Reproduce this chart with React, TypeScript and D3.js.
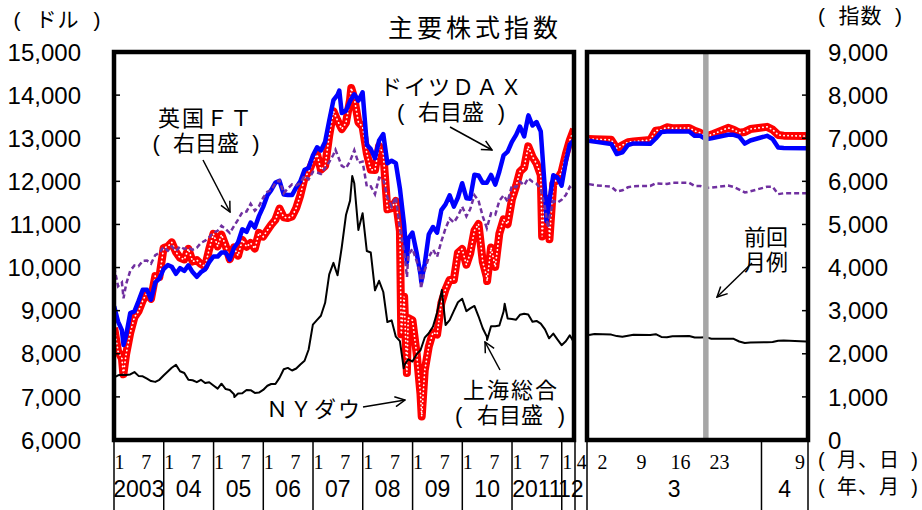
import * as d3 from 'd3';

// month-end closes, Jan 2003 .. Mar 2012
const dowMonthly = [
  8054, 7891, 7992, 8480, 8850, 8985, 9233, 9416, 9275, 9801, 9782, 10454,
  10488, 10584, 10358, 10226, 10188, 10435, 10140, 10174, 10080, 10027, 10428, 10783,
  10490, 10766, 10504, 10193, 10467, 10275, 10641, 10482, 10569, 10440, 10806, 10718,
  10865, 10993, 11109, 11367, 11168, 11150, 11186, 11381, 11679, 12081, 12222, 12463,
  12622, 12269, 12354, 13063, 13628, 13409, 13212, 13358, 13896, 13930, 13372, 13265,
  12650, 12266, 12263, 12820, 12638, 11350, 11378, 11544, 10851, 9325, 8829, 8776,
  8001, 7063, 7609, 8168, 8500, 8447, 9172, 9496, 9712, 9713, 10345, 10428,
  10067, 10325, 10857, 11009, 10137, 9774, 10466, 10015, 10788, 11118, 11006, 11578,
  11892, 12226, 12320, 12811, 12570, 12414, 12143, 11614, 10913, 11955, 12046, 12218,
  12633, 12952, 13212,
];
const daxMonthly = [
  2747, 2547, 2424, 2942, 2982, 3221, 3487, 3485, 3257, 3655, 3746, 3965,
  4059, 4018, 3856, 3985, 3921, 4053, 3895, 3785, 3893, 3960, 4126, 4256,
  4254, 4350, 4349, 4185, 4460, 4587, 4887, 4830, 5044, 4929, 5193, 5408,
  5674, 5797, 5970, 6009, 5692, 5683, 5682, 5859, 6004, 6269, 6309, 6597,
  6789, 6716, 6917, 7409, 7884, 8007, 7584, 7638, 7862, 8019, 7871, 8067,
  6851, 6748, 6535, 6949, 7096, 6418, 6479, 6422, 5831, 4988, 4669, 4810,
  4338, 3843, 4085, 4770, 4941, 4809, 5332, 5465, 5675, 5415, 5625, 5957,
  5608, 5598, 6154, 6136, 5965, 5966, 6148, 5925, 6229, 6601, 6688, 6914,
  7077, 7272, 7041, 7514, 7294, 7376, 7159, 5785, 5502, 6141, 6089, 5898,
  6458, 6856, 6947,
];
const ftseMonthly = [
  3567, 3656, 3613, 3926, 4048, 4031, 4157, 4161, 4091, 4288, 4342, 4477,
  4390, 4492, 4386, 4489, 4431, 4464, 4413, 4459, 4571, 4624, 4703, 4814,
  4852, 4968, 4894, 4801, 4964, 5113, 5282, 5297, 5478, 5317, 5423, 5619,
  5760, 5792, 5965, 6023, 5724, 5833, 5928, 5906, 5961, 6129, 6049, 6221,
  6203, 6172, 6308, 6449, 6621, 6608, 6360, 6303, 6467, 6722, 6432, 6457,
  5880, 5884, 5702, 6087, 6054, 5626, 5412, 5637, 4902, 4377, 4288, 4434,
  4150, 3830, 3926, 4244, 4418, 4249, 4608, 4909, 5134, 5045, 5191, 5413,
  5189, 5355, 5680, 5553, 5188, 4917, 5258, 5225, 5549, 5675, 5528, 5900,
  5863, 5994, 5909, 6070, 5990, 5946, 5815, 5395, 5128, 5544, 5505, 5572,
  5682, 5872, 5768,
];
const shanghaiMonthly = [
  1500, 1512, 1510, 1521, 1576, 1487, 1476, 1421, 1367, 1348, 1397, 1497,
  1590, 1675, 1742, 1595, 1555, 1399, 1386, 1342, 1396, 1321, 1341, 1266,
  1191, 1306, 1181, 1159, 1060, 1080, 1083, 1162, 1155, 1092, 1099, 1161,
  1258, 1299, 1298, 1440, 1641, 1672, 1612, 1658, 1753, 1838, 2099, 2675,
  2786, 2881, 3183, 3841, 4109, 3821, 4471, 5218, 5552, 5954, 4871, 5262,
  4383, 4348, 3473, 3693, 3433, 2736, 2775, 2397, 2293, 1729, 1871, 1821,
  1991, 2082, 2373, 2477, 2633, 2959, 3412, 2668, 2779, 2996, 3195, 3277,
  2989, 3052, 3109, 2870, 2592, 2398, 2638, 2639, 2656, 2979, 2820, 2808,
  2791, 2905, 2928, 2911, 2743, 2762, 2701, 2568, 2359, 2469, 2333, 2199,
  2292, 2428, 2263,
];

// start values and visible highs / lows between month ends
const dowExtra: [string, number][] = [
  ['2003-01-02', 8607], ['2003-03-11', 7524], ['2007-10-09', 14164], ['2008-10-10', 8451],
  ['2008-11-20', 7552], ['2009-03-09', 6547], ['2010-07-02', 9686], ['2011-08-10', 10720],
  ['2011-10-03', 10655],
];
const daxExtra: [string, number][] = [
  ['2003-01-02', 3100], ['2003-03-12', 2203], ['2007-07-13', 8105], ['2008-11-21', 4127],
  ['2009-03-06', 3666], ['2011-05-02', 7528], ['2011-09-12', 5072],
];
const ftseExtra: [string, number][] = [
  ['2003-01-02', 4010], ['2003-03-12', 3287], ['2007-06-15', 6732], ['2008-11-21', 3781],
  ['2009-03-03', 3512], ['2011-09-22', 4923],
];
const shanghaiExtra: [string, number][] = [
  ['2003-01-02', 1450], ['2005-06-03', 998], ['2007-10-16', 6124], ['2008-10-28', 1664],
  ['2009-08-04', 3478], ['2010-07-02', 2320], ['2010-11-08', 3159],
];

// daily closes, right-hand panel
const dailyDates = [
  '2012-03-01', '2012-03-02', '2012-03-05', '2012-03-06', '2012-03-07', '2012-03-08', '2012-03-09',
  '2012-03-12', '2012-03-13', '2012-03-14', '2012-03-15', '2012-03-16', '2012-03-19', '2012-03-20',
  '2012-03-21', '2012-03-22', '2012-03-23', '2012-03-26', '2012-03-27', '2012-03-28', '2012-03-29',
  '2012-03-30', '2012-04-02', '2012-04-03', '2012-04-04', '2012-04-05', '2012-04-09',
];
const dowDaily = [12980, 12977, 12962, 12759, 12837, 12907, 12922, 12960, 13177, 13194, 13253, 13233, 13239, 13170, 13125, 13046, 13081, 13241, 13198, 13127, 13146, 13212, 13264, 13199, 13075, 13060, 13050];
const daxDaily = [6941, 6921, 6867, 6633, 6671, 6842, 6880, 6870, 6995, 7144, 7154, 7157, 7154, 7055, 7056, 6978, 6996, 7079, 7079, 7038, 6875, 6947, 7056, 6983, 6784, 6775, 6770];
const ftseDaily = [5935, 5911, 5875, 5765, 5791, 5862, 5888, 5892, 5955, 5946, 5940, 5966, 5965, 5892, 5891, 5850, 5854, 5903, 5869, 5809, 5742, 5768, 5875, 5874, 5703, 5723, 5723];
const shanghaiDaily = [2435, 2461, 2445, 2410, 2395, 2420, 2440, 2437, 2454, 2391, 2383, 2405, 2411, 2376, 2380, 2386, 2349, 2350, 2347, 2285, 2252, 2263, 2270, 2275, 2302, 2306, 2286];

const prevReportDate = '2012-03-22';

const yearLabels = ['2003', '04', '05', '06', '07', '08', '09', '10', '2011', '12'];
const monthLabels = [1, 7];
const lastYearMonthLabels = [1, 4];
const dayLabels = ['2012-03-02', '2012-03-09', '2012-03-16', '2012-03-23', '2012-04-09'];

const W = 922;
const H = 510;
const TOP = 52;
const BOTTOM = 440;
const L = { x0: 114, x1: 574 };
const R = { x0: 587, x1: 808 };

const SANS = '"Liberation Sans", Arial, sans-serif';
const SERIF = '"Liberation Serif", "Times New Roman", serif';
const CJK = '"Noto Sans CJK JP", "Noto Sans", sans-serif';

type Pt = { date: Date; value: number };
const parse = d3.timeParse('%Y-%m-%d');

function monthlySeries(values: number[], extra: [string, number][]): Pt[] {
  const pts: Pt[] = values.map((v, i) => ({ date: new Date(2003, i + 1, 0), value: v }));
  extra.forEach(([d, v]) => pts.push({ date: parse(d) as Date, value: v }));
  return pts.sort((a, b) => +a.date - +b.date);
}
function dailySeries(values: number[]): Pt[] {
  return values.map((v, i) => ({ date: parse(dailyDates[i]) as Date, value: v }));
}

// text in parentheses, the parens pushed out to span w (Excel look)
function Paren({ cx, y, w, text, size, spacing = 0 }: { cx: number; y: number; w: number; text: string; size: number; spacing?: number }) {
  return (
    <g fontSize={size}>
      <text x={cx - w / 2} y={y} textAnchor="start" fontFamily={SANS}>(</text>
      <text x={cx + spacing / 2} y={y} textAnchor="middle" letterSpacing={spacing} fontFamily={CJK}>{text}</text>
      <text x={cx + w / 2} y={y} textAnchor="end" fontFamily={SANS}>)</text>
    </g>
  );
}

export default function App() {
  const xL = d3.scaleTime().domain([new Date(2003, 0, 1), new Date(2012, 2, 31)]).range([L.x0, L.x1]);
  const xR = d3.scaleTime().domain([new Date(2012, 2, 1), new Date(2012, 3, 9)]).range([R.x0 + 2, R.x1 - 2]);
  const yL = d3.scaleLinear().domain([6000, 15000]).range([BOTTOM, TOP]);
  const yR = d3.scaleLinear().domain([0, 9000]).range([BOTTOM, TOP]);

  const lineL = (y: d3.ScaleLinear<number, number>) =>
    d3.line<Pt>().x(d => xL(d.date)).y(d => y(d.value));
  const lineR = (y: d3.ScaleLinear<number, number>) =>
    d3.line<Pt>().x(d => xR(d.date)).y(d => y(d.value));

  const left = {
    dow: lineL(yL)(monthlySeries(dowMonthly, dowExtra)) || '',
    dax: lineL(yR)(monthlySeries(daxMonthly, daxExtra)) || '',
    ftse: lineL(yR)(monthlySeries(ftseMonthly, ftseExtra)) || '',
    sh: lineL(yR)(monthlySeries(shanghaiMonthly, shanghaiExtra)) || '',
  };
  const right = {
    dow: lineR(yL)(dailySeries(dowDaily)) || '',
    dax: lineR(yR)(dailySeries(daxDaily)) || '',
    ftse: lineR(yR)(dailySeries(ftseDaily)) || '',
    sh: lineR(yR)(dailySeries(shanghaiDaily)) || '',
  };

  const fmt = d3.format(',');
  const years = d3.range(2003, 2013);
  const yearEdges = years.map(y => xL(new Date(y, 0, 1)));
  const apr1 = xR(new Date(2012, 3, 1));
  const separators = [...yearEdges, L.x1 + 1, R.x0, apr1, R.x1];
  const grayX = xR(parse(prevReportDate) as Date);

  const seriesPaths = (p: typeof left) => (
    <>
      <path d={p.dow} fill="none" stroke="#ff0000" strokeWidth={8} strokeLinejoin="round" />
      <path d={p.dow} fill="none" stroke="#ffffff" strokeWidth={1.7} strokeDasharray="0.3 3.7" strokeLinecap="round" />
      <path d={p.dax} fill="none" stroke="#0000ff" strokeWidth={4.5} strokeLinejoin="round" />
      <path d={p.ftse} fill="none" stroke="#7030a0" strokeWidth={2.5} strokeDasharray="5 3" />
      <path d={p.sh} fill="none" stroke="#000000" strokeWidth={2} strokeLinejoin="round" />
    </>
  );

  return (
    <svg width={W} height={H} style={{ position: 'fixed', left: 0, top: 0, background: '#fff' }}>
      <defs>
        <clipPath id="clipL"><rect x={L.x0} y={TOP} width={L.x1 - L.x0} height={BOTTOM - TOP} /></clipPath>
        <clipPath id="clipR"><rect x={R.x0} y={TOP} width={R.x1 - R.x0} height={BOTTOM - TOP} /></clipPath>
        <marker id="arrow" viewBox="0 0 12 12" refX={11} refY={6} markerWidth={12} markerHeight={12}
          markerUnits="userSpaceOnUse" orient="auto">
          <path d="M1,1 L11,6 L1,11" fill="none" stroke="#000" strokeWidth={1.5} />
        </marker>
      </defs>
      <rect width={W} height={H} fill="#fff" />

      {/* title and units */}
      <text x={475} y={37} textAnchor="middle" fontFamily={CJK} fontSize={25} letterSpacing={4}>主要株式指数</text>
      <Paren cx={57} y={27} w={87} text="ドル" size={21} spacing={1} />
      <Paren cx={860} y={23} w={84} text="指数" size={21} spacing={1} />

      {/* series */}
      <g clipPath="url(#clipL)">{seriesPaths(left)}</g>
      <g clipPath="url(#clipR)">
        {seriesPaths(right)}
        <line x1={grayX} x2={grayX} y1={TOP} y2={BOTTOM} stroke="#a6a6a6" strokeWidth={5.5} />
      </g>

      {/* frames */}
      <rect x={L.x0} y={TOP} width={L.x1 - L.x0} height={BOTTOM - TOP} fill="none" stroke="#000" strokeWidth={4.5} />
      <rect x={R.x0} y={TOP} width={R.x1 - R.x0} height={BOTTOM - TOP} fill="none" stroke="#000" strokeWidth={4.5} />

      {/* y axes */}
      {yL.ticks(9).map(t => (
        <g key={'l' + t}>
          <line x1={L.x0} x2={L.x0 + 6} y1={yL(t)} y2={yL(t)} stroke="#000" strokeWidth={1.5} />
          <text x={81} y={yL(t)} dy="0.36em" textAnchor="end" fontFamily={SANS} fontSize={24}>{fmt(t)}</text>
        </g>
      ))}
      {yR.ticks(9).map(t => (
        <g key={'r' + t}>
          <line x1={R.x1 - 6} x2={R.x1} y1={yR(t)} y2={yR(t)} stroke="#000" strokeWidth={1.5} />
          <text x={828} y={yR(t)} dy="0.36em" textAnchor="start" fontFamily={SANS} fontSize={24}>{fmt(t)}</text>
        </g>
      ))}

      {/* x axis */}
      {separators.map((x, i) => (
        <line key={'s' + i} x1={x} x2={x} y1={BOTTOM + 2} y2={H} stroke="#000" strokeWidth={1.5} />
      ))}
      {years.map((y, i) => {
        const months = y === 2012 ? lastYearMonthLabels : monthLabels;
        const x0 = yearEdges[i];
        const x1 = i < years.length - 1 ? yearEdges[i + 1] : L.x1;
        return (
          <g key={'y' + y}>
            {months.map(m => (
              <text key={m} x={xL(new Date(y, m - 1, 1)) + (m === 1 ? 5.5 : 7.5)} y={469} textAnchor="middle"
                fontFamily={SERIF} fontSize={20}>{m}</text>
            ))}
            <text x={(x0 + x1) / 2 + (y === 2012 ? 3 : 0)} y={497} textAnchor="middle" fontFamily={SANS} fontSize={23}>
              {yearLabels[i]}
            </text>
          </g>
        );
      })}
      {dayLabels.map((d, i) => {
        const dt = parse(d) as Date;
        const x = Math.min(xR(dt) + 8, R.x1 - 8);
        return (
          <text key={'d' + i} x={x} y={469} textAnchor="middle" fontFamily={SERIF} fontSize={20}>{dt.getDate()}</text>
        );
      })}
      <text x={(R.x0 + apr1) / 2} y={497} textAnchor="middle" fontFamily={SANS} fontSize={23}>3</text>
      <text x={(apr1 + R.x1) / 2} y={497} textAnchor="middle" fontFamily={SANS} fontSize={23}>4</text>
      <Paren cx={868} y={467} w={100} text="月、日" size={20} spacing={1} />
      <Paren cx={868} y={494} w={100} text="年、月" size={20} spacing={1} />

      {/* annotations */}
      <g fontFamily={CJK} fontSize={22} textAnchor="middle">
        <text x={206} y={126} letterSpacing={2}>英国ＦＴ</text>
        <text x={452} y={95} letterSpacing={2}>ドイツＤＡＸ</text>
        <text x={511} y={398} letterSpacing={2}>上海総合</text>
        <text x={314} y={417} letterSpacing={2}>ＮＹダウ</text>
        <text x={766} y={245}>前回</text>
        <text x={766} y={270}>月例</text>
      </g>
      <Paren cx={206} y={151} w={107} text="右目盛" size={22} />
      <Paren cx={451} y={120} w={108} text="右目盛" size={22} />
      <Paren cx={510} y={423} w={110} text="右目盛" size={22} />
      <g stroke="#000" strokeWidth={1.5} fill="none">
        <line x1={203} y1={160} x2={230} y2={212} markerEnd="url(#arrow)" />
        <line x1={450} y1={127} x2={492} y2={150} markerEnd="url(#arrow)" />
        <line x1={500} y1={370} x2={485} y2={342} markerEnd="url(#arrow)" />
        <line x1={363} y1={407} x2={405} y2={400} markerEnd="url(#arrow)" />
        <line x1={752} y1={263} x2={717} y2={297} markerEnd="url(#arrow)" />
      </g>
    </svg>
  );
}
